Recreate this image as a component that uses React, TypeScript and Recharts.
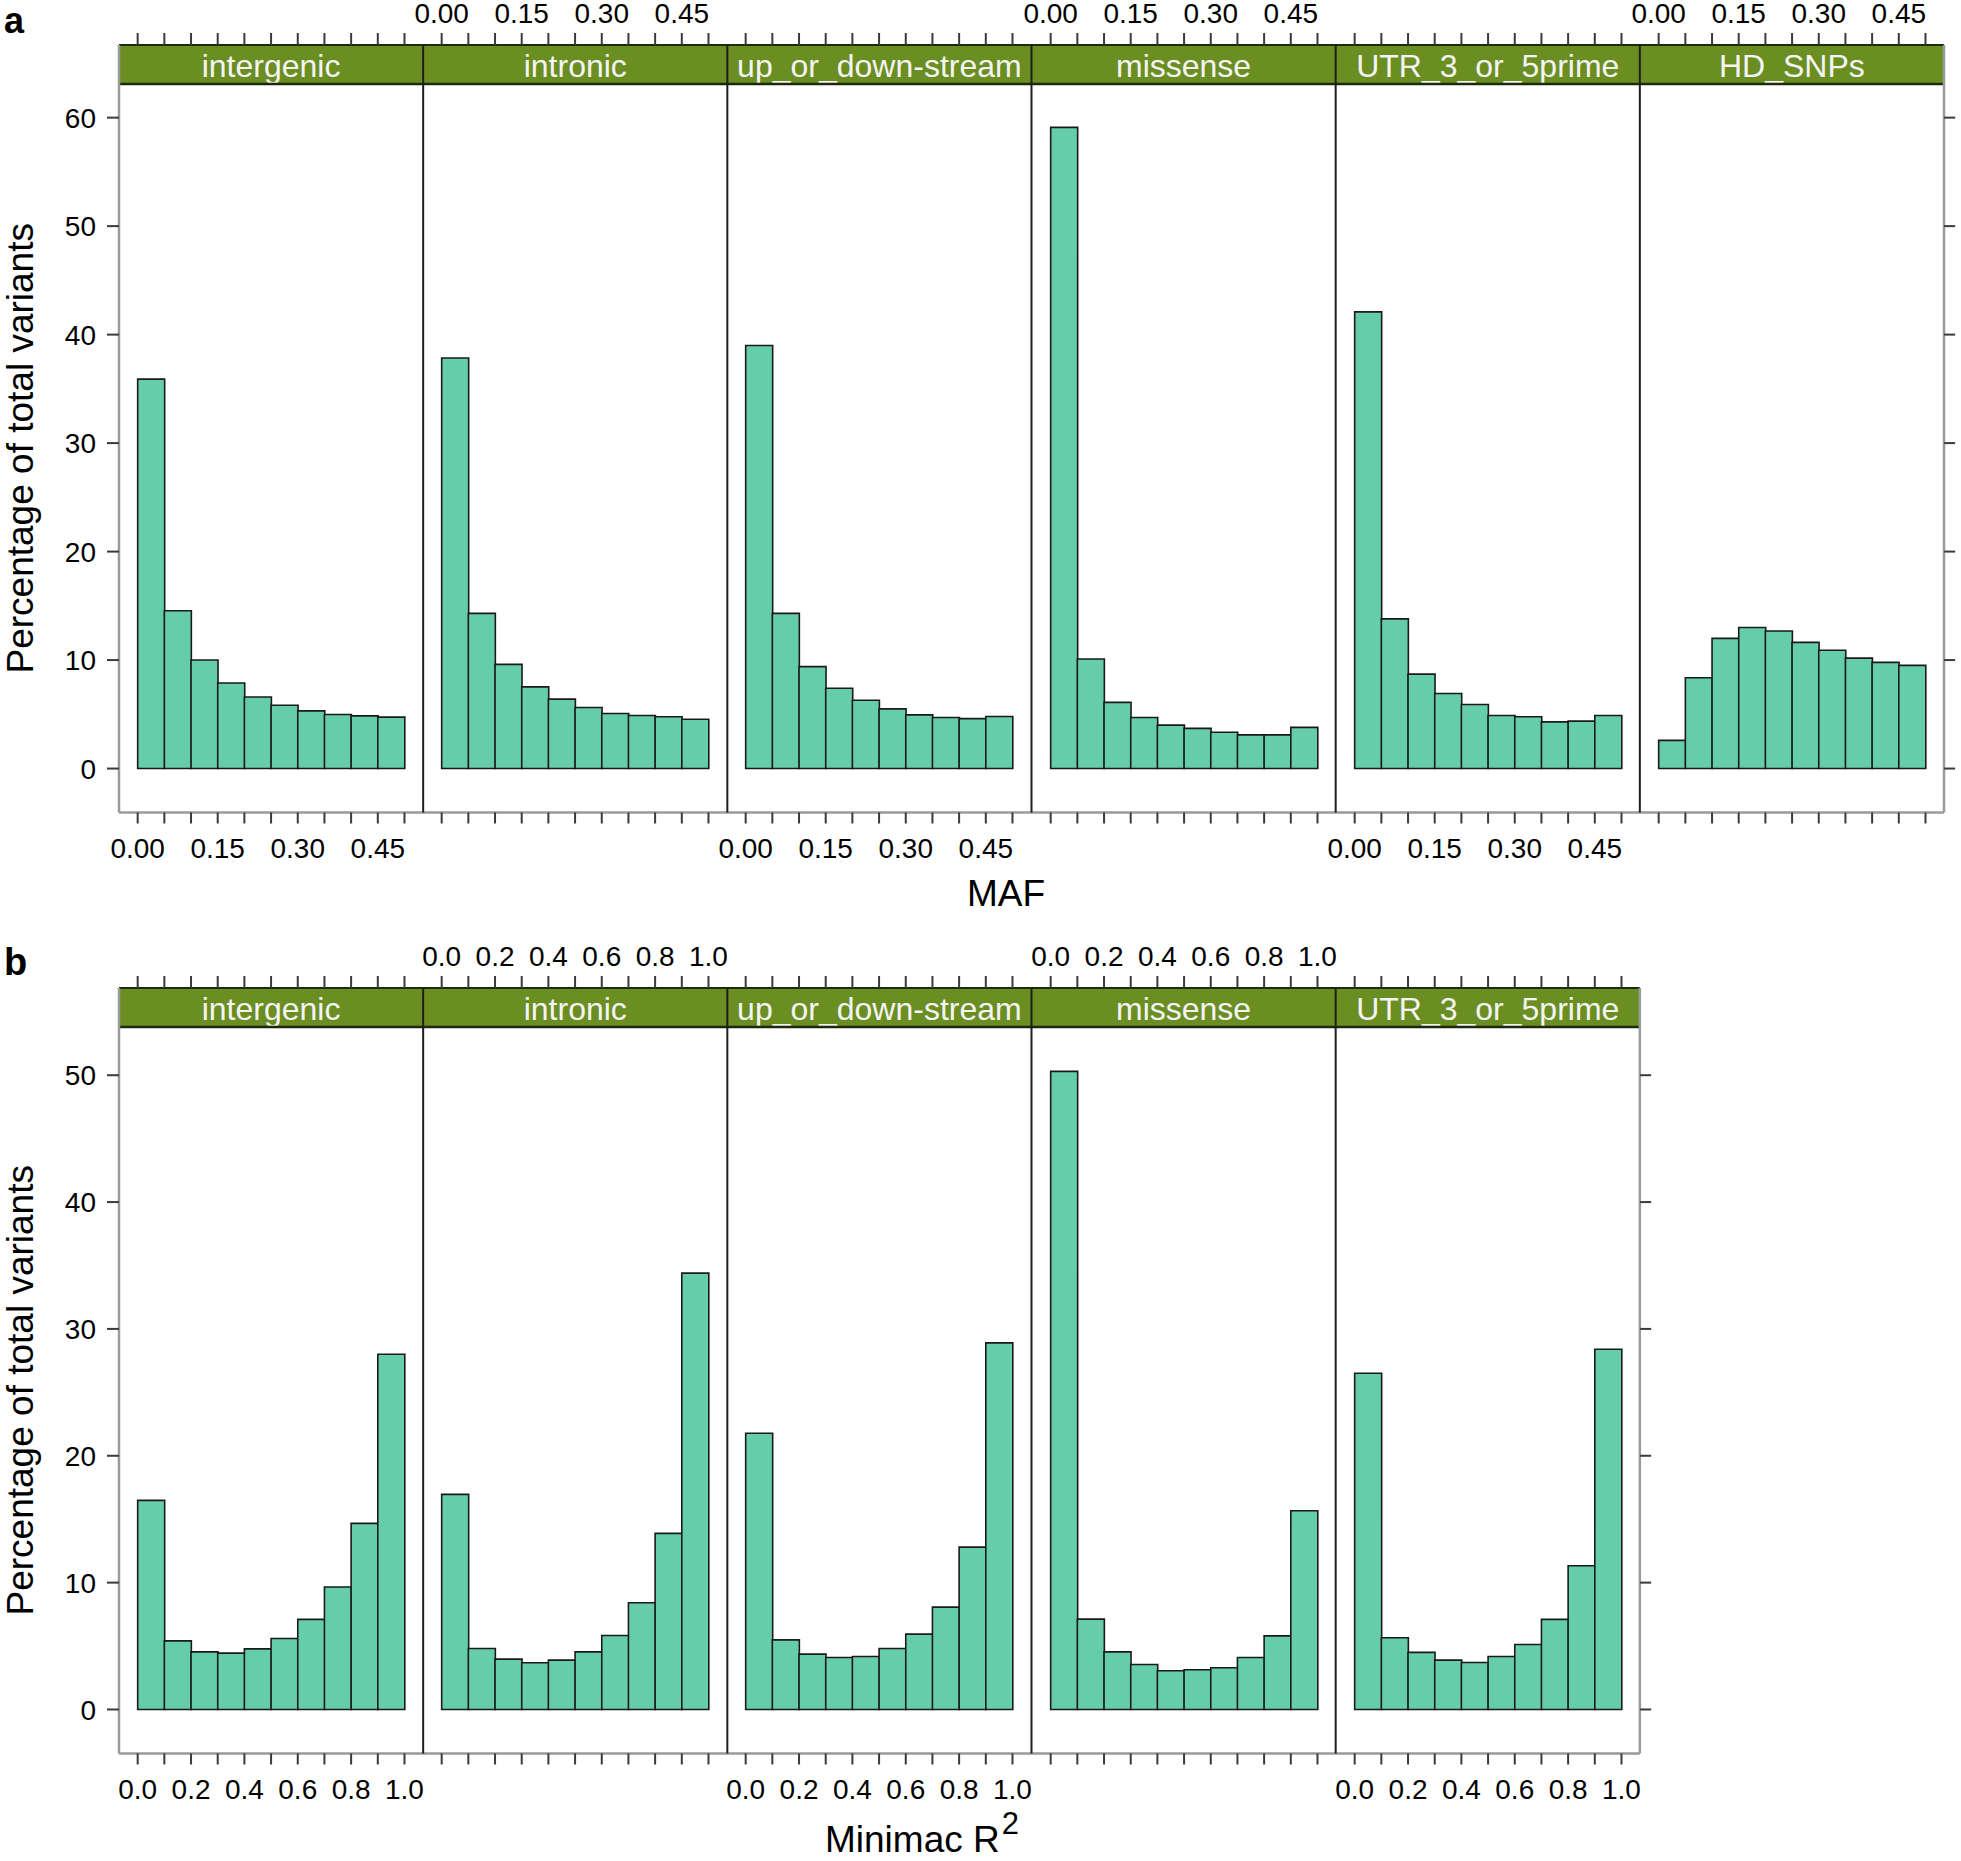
import React from 'react';
import { BarChart, Bar, XAxis, YAxis } from 'recharts';

const FONT = '"Liberation Sans", Arial, Helvetica, sans-serif';
const BAR_FILL = '#66CDAA';
const BAR_STROKE = '#1a1a1a';
const STRIP_FILL = '#6B8E23';
const TICK = '#3a3a3a';
const FRAME = '#9a9a9a';
const DIVIDER = '#1e1e1e';

// --- data: panel a (MAF) ---
const annotations = ['intergenic', 'intronic', 'up_or_down-stream', 'missense', 'UTR_3_or_5prime', 'HD_SNPs'];
const mafBins = ['0.00-0.05', '0.05-0.10', '0.10-0.15', '0.15-0.20', '0.20-0.25', '0.25-0.30', '0.30-0.35', '0.35-0.40', '0.40-0.45', '0.45-0.50'];
const mafTicks = [0, 0.05, 0.1, 0.15, 0.2, 0.25, 0.3, 0.35, 0.4, 0.45, 0.5];
const mafTickLabels = [0, 0.15, 0.3, 0.45];
const mafIntergenic = [35.9, 14.55, 10.0, 7.88, 6.6, 5.84, 5.32, 4.98, 4.86, 4.74];
const mafIntronic = [37.85, 14.3, 9.6, 7.53, 6.4, 5.63, 5.08, 4.89, 4.77, 4.55];
const mafUpDown = [39.0, 14.3, 9.4, 7.4, 6.3, 5.5, 4.95, 4.7, 4.6, 4.8];
const mafMissense = [59.1, 10.1, 6.1, 4.7, 4.0, 3.7, 3.35, 3.1, 3.1, 3.8];
const mafUtr = [42.1, 13.8, 8.7, 6.92, 5.9, 4.89, 4.77, 4.3, 4.37, 4.89];
const mafHdSnps = [2.6, 8.37, 12.0, 13.0, 12.68, 11.63, 10.9, 10.18, 9.79, 9.51];
const pctTicksA = [0, 10, 20, 30, 40, 50, 60];

// --- data: panel b (Minimac R2) ---
const r2Bins = ['0.0-0.1', '0.1-0.2', '0.2-0.3', '0.3-0.4', '0.4-0.5', '0.5-0.6', '0.6-0.7', '0.7-0.8', '0.8-0.9', '0.9-1.0'];
const r2Ticks = [0, 0.1, 0.2, 0.3, 0.4, 0.5, 0.6, 0.7, 0.8, 0.9, 1.0];
const r2TickLabels = [0, 0.2, 0.4, 0.6, 0.8, 1.0];
const r2Intergenic = [16.48, 5.41, 4.54, 4.44, 4.78, 5.6, 7.1, 9.65, 14.67, 28.0];
const r2Intronic = [16.96, 4.81, 3.97, 3.68, 3.89, 4.54, 5.83, 8.41, 13.88, 34.4];
const r2UpDown = [21.77, 5.49, 4.36, 4.1, 4.18, 4.81, 5.94, 8.07, 12.8, 28.9];
const r2Missense = [50.3, 7.12, 4.54, 3.55, 3.05, 3.13, 3.29, 4.1, 5.8, 15.66];
const r2Utr = [26.5, 5.65, 4.5, 3.89, 3.7, 4.18, 5.12, 7.1, 11.33, 28.4];
const pctTicksB = [0, 10, 20, 30, 40, 50];

// layout (page pixels)
const PANEL_LEFT = 119;
const PANEL_W = (1944 - 119) / 6;
const STRIP_H = 39;
const PAD_L = 70;
const PAD_R = 30;
const PAD_T = 100;
const PAD_B = 60;

const rowA = {
  plotTop: 84,
  plotH: 728.5,
  bins: mafBins,
  series: [mafIntergenic, mafIntronic, mafUpDown, mafMissense, mafUtr, mafHdSnps],
  xDomain: [-0.035, 0.535] as [number, number],
  xTicks: mafTicks,
  xLabels: mafTickLabels,
  digits: 2,
  yDomain: [-4.05, 63.1] as [number, number],
  yTicks: pctTicksA,
};

const rowB = {
  plotTop: 1027,
  plotH: 726.5,
  bins: r2Bins,
  series: [r2Intergenic, r2Intronic, r2UpDown, r2Missense, r2Utr],
  xDomain: [-0.07, 1.07] as [number, number],
  xTicks: r2Ticks,
  xLabels: r2TickLabels,
  digits: 1,
  yDomain: [-3.47, 53.8] as [number, number],
  yTicks: pctTicksB,
};

type Row = typeof rowA;

const textStyle = { fontFamily: FONT, fontSize: 28, fill: '#000' };

const Facet = ({ row, idx }: { row: Row; idx: number }) => {
  const count = row.series.length;
  const values = row.series[idx];
  const data = row.bins.map((bin, i) => ({ bin, pct: values[i] }));
  const left = PANEL_LEFT + idx * PANEL_W - PAD_L;
  const top = row.plotTop - PAD_T;
  const width = PANEL_W + PAD_L + PAD_R;
  const height = row.plotH + PAD_T + PAD_B;
  const plotBottom = PAD_T + row.plotH;
  const stripTop = PAD_T - STRIP_H;
  const plotRight = PAD_L + PANEL_W;
  const isFirst = idx === 0;
  const isLast = idx === count - 1;
  const labelsBottom = idx % 2 === 0;
  const span = row.xDomain[1] - row.xDomain[0];
  const xPad = (PANEL_W * (0 - row.xDomain[0])) / span;
  const binW = (PANEL_W - 2 * xPad) / row.bins.length;
  const hasLabel = (v: number) => row.xLabels.some((l) => Math.abs(l - v) < 1e-9);

  // each category tick marks the left edge of its bin; the last one also closes the range
  const edgesFor = (p: any) => {
    const i = p.index as number;
    const edges = [{ x: p.x - binW / 2, v: row.xTicks[i] }];
    if (i === row.bins.length - 1) edges.push({ x: p.x + binW / 2, v: row.xTicks[i + 1] });
    return edges;
  };

  const bottomTick = (p: any) => (
    <g>
      {edgesFor(p).map((e, k) => (
        <g key={k}>
          <line x1={e.x} x2={e.x} y1={plotBottom} y2={plotBottom + 11} stroke={TICK} strokeWidth={2} />
          {labelsBottom && hasLabel(e.v) && (
            <text x={e.x} y={plotBottom + 46} textAnchor="middle" style={textStyle}>
              {e.v.toFixed(row.digits)}
            </text>
          )}
        </g>
      ))}
    </g>
  );

  const topTick = (p: any) => (
    <g>
      {edgesFor(p).map((e, k) => (
        <g key={k}>
          <line x1={e.x} x2={e.x} y1={stripTop} y2={stripTop - 12} stroke={TICK} strokeWidth={2} />
          {!labelsBottom && hasLabel(e.v) && (
            <text x={e.x} y={stripTop - 22} textAnchor="middle" style={textStyle}>
              {e.v.toFixed(row.digits)}
            </text>
          )}
        </g>
      ))}
    </g>
  );

  const leftTick = (p: any) =>
    isFirst ? (
      <g>
        <line x1={PAD_L - 12} x2={PAD_L} y1={p.y} y2={p.y} stroke={TICK} strokeWidth={2} />
        <text x={PAD_L - 23} y={p.y} dy="0.36em" textAnchor="end" style={textStyle}>
          {p.payload.value}
        </text>
      </g>
    ) : (
      <g />
    );

  const rightTick = (p: any) =>
    isLast ? (
      <g>
        <line x1={plotRight} x2={plotRight + 11} y1={p.y} y2={p.y} stroke={TICK} strokeWidth={2} />
      </g>
    ) : (
      <g />
    );

  return (
    <div style={{ position: 'absolute', left, top }}>
      <BarChart
        width={width}
        height={height}
        data={data}
        margin={{ top: PAD_T - 40, bottom: PAD_B - 40, left: PAD_L - 40, right: PAD_R - 20 }}
        barCategoryGap={0}
        barGap={0}
      >
        <XAxis
          xAxisId="top"
          orientation="top"
          dataKey="bin"
          type="category"
          padding={{ left: xPad, right: xPad }}
          interval={0}
          height={40}
          axisLine={false}
          tickLine={false}
          tick={topTick}
        />
        <XAxis
          xAxisId="bottom"
          orientation="bottom"
          dataKey="bin"
          type="category"
          padding={{ left: xPad, right: xPad }}
          interval={0}
          height={40}
          axisLine={false}
          tickLine={false}
          tick={bottomTick}
        />
        <YAxis
          yAxisId="left"
          type="number"
          domain={row.yDomain}
          ticks={row.yTicks}
          interval={0}
          allowDataOverflow
          width={40}
          axisLine={false}
          tickLine={false}
          tick={leftTick}
        />
        <YAxis
          yAxisId="right"
          orientation="right"
          type="number"
          domain={row.yDomain}
          ticks={row.yTicks}
          interval={0}
          allowDataOverflow
          width={20}
          axisLine={false}
          tickLine={false}
          tick={rightTick}
        />
        <Bar
          xAxisId="bottom"
          yAxisId="left"
          dataKey="pct"
          fill={BAR_FILL}
          stroke={BAR_STROKE}
          strokeWidth={1.6}
          isAnimationActive={false}
        />
      </BarChart>
    </div>
  );
};

// strips, panel frames and titles
const Frame = ({ row }: { row: Row }) => {
  const count = row.series.length;
  const stripTop = row.plotTop - STRIP_H;
  const bottom = row.plotTop + row.plotH;
  const right = PANEL_LEFT + count * PANEL_W;
  return (
    <g>
      {row.series.map((_, i) => {
        const x = PANEL_LEFT + i * PANEL_W;
        return (
          <g key={i}>
            <rect x={x} y={stripTop} width={PANEL_W} height={STRIP_H} fill={STRIP_FILL} />
            <text
              x={x + PANEL_W / 2}
              y={row.plotTop - 7.5}
              textAnchor="middle"
              style={{ fontFamily: FONT, fontSize: 32, fill: '#f4f4f4' }}
            >
              {annotations[i]}
            </text>
          </g>
        );
      })}
      <line x1={PANEL_LEFT} x2={right} y1={stripTop} y2={stripTop} stroke="#1c2a08" strokeWidth={2} />
      <line x1={PANEL_LEFT} x2={right} y1={row.plotTop} y2={row.plotTop} stroke="#1c2a08" strokeWidth={2.5} />
      <line x1={PANEL_LEFT} x2={right} y1={bottom} y2={bottom} stroke={FRAME} strokeWidth={2.5} />
      <line x1={PANEL_LEFT} x2={PANEL_LEFT} y1={stripTop} y2={bottom} stroke={FRAME} strokeWidth={2.5} />
      <line x1={right} x2={right} y1={stripTop} y2={bottom} stroke={FRAME} strokeWidth={2.5} />
      {row.series.slice(1).map((_, i) => {
        const x = PANEL_LEFT + (i + 1) * PANEL_W;
        return <line key={i} x1={x} x2={x} y1={stripTop} y2={bottom} stroke={DIVIDER} strokeWidth={2} />;
      })}
      <text
        transform={`translate(33, ${row.plotTop + row.plotH / 2}) rotate(-90)`}
        textAnchor="middle"
        style={{ fontFamily: FONT, fontSize: 37, fill: '#000' }}
      >
        Percentage of total variants
      </text>
    </g>
  );
};

const App = () => {
  return (
    <div style={{ position: 'absolute', left: 0, top: 0, width: 1961, height: 1861, background: '#fff' }}>
      <svg width={1961} height={1861} style={{ position: 'absolute', left: 0, top: 0 }}>
        <Frame row={rowA} />
        <Frame row={rowB} />
        <text x={4} y={33} style={{ fontFamily: FONT, fontSize: 36, fontWeight: 'bold', fill: '#000' }}>
          a
        </text>
        <text x={4} y={975} style={{ fontFamily: FONT, fontSize: 38, fontWeight: 'bold', fill: '#000' }}>
          b
        </text>
        <text x={1006} y={906} textAnchor="middle" style={{ fontFamily: FONT, fontSize: 37, fill: '#000' }}>
          MAF
        </text>
        <text x={922} y={1852} textAnchor="middle" style={{ fontFamily: FONT, fontSize: 37, fill: '#000' }}>
          Minimac R
          <tspan dx={2} dy={-18} style={{ fontSize: 31 }}>
            2
          </tspan>
        </text>
      </svg>
      {rowA.series.map((_, i) => (
        <Facet key={`a-${i}`} row={rowA} idx={i} />
      ))}
      {rowB.series.map((_, i) => (
        <Facet key={`b-${i}`} row={rowB} idx={i} />
      ))}
    </div>
  );
};

export default App;
